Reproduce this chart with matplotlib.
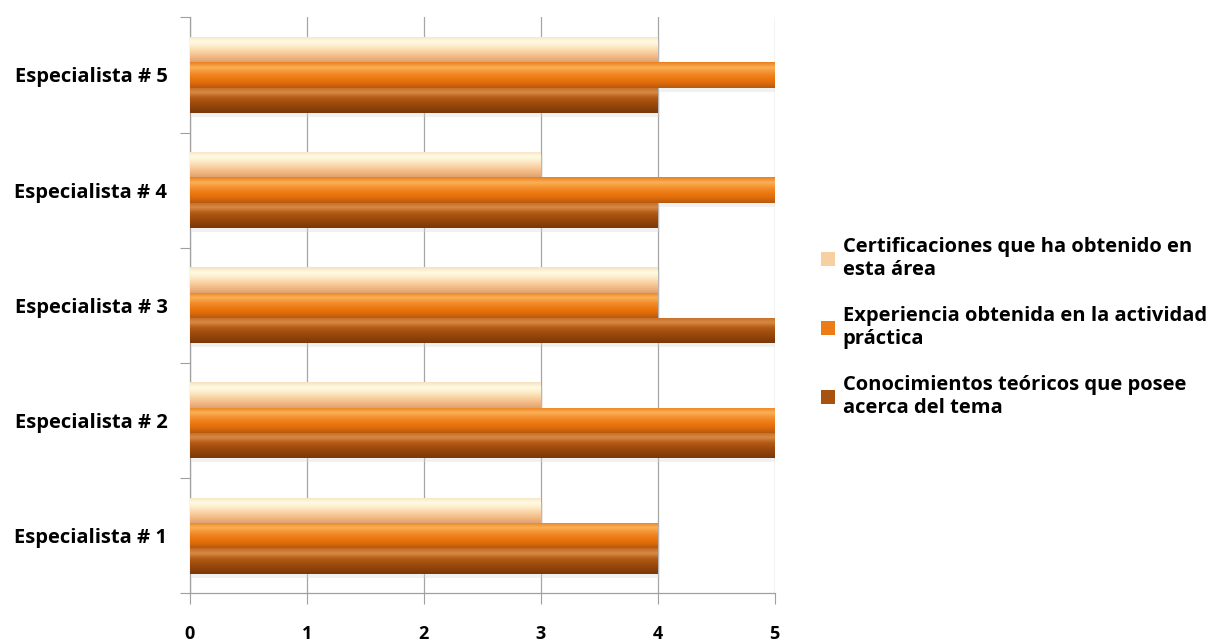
import matplotlib.pyplot as plt
import numpy as np
from matplotlib.colors import LinearSegmentedColormap, to_rgb
from matplotlib.patches import Patch

# Datos
##################################################################
categorias = ["Especialista # 1", "Especialista # 2", "Especialista # 3",
              "Especialista # 4", "Especialista # 5"]
conocimientos = [4, 5, 5, 4, 4]
experiencia = [4, 5, 4, 5, 5]
certificaciones = [3, 3, 4, 3, 4]

series = ["Conocimientos teóricos que posee\nacerca del tema",
          "Experiencia obtenida en la actividad\npráctica",
          "Certificaciones que ha obtenido en\nesta área"]

# degradados (de arriba hacia abajo) para cada serie
degradados = [
    ["#C26A26", "#D88A45", "#B45C18", "#A04C0C", "#8E420A", "#7A3808"],
    ["#E8801E", "#FBB055", "#F39030", "#EE7A12", "#E06C0A", "#B65A10"],
    ["#F4E2C0", "#FFFBE4", "#FDEBC8", "#F9D2A2", "#F2B985", "#E0A272"],
]
colores_leyenda = ["#A8520F", "#EE7C16", "#F8CFA0"]

plt.rcParams['font.family'] = ['Open Sans', 'DejaVu Sans']

fig = plt.figure(figsize=(12.16, 6.42), dpi=100)
ax = fig.add_axes([0.156, 0.076, 0.481, 0.897])

alto = 0.22
y = np.arange(len(categorias))
valores = [conocimientos, experiencia, certificaciones]
desplaz = [-alto, 0, alto]

for vals, off, stops in zip(valores, desplaz, degradados):
    cmap = LinearSegmentedColormap.from_list("g", [to_rgb(c) for c in stops])
    grad = cmap(np.linspace(0, 1, 64))[:, None, :3]
    barras = ax.barh(y + off, vals, height=alto, color="none",
                     edgecolor="none", zorder=3)
    for b in barras:
        x0, y0 = b.get_x(), b.get_y()
        w, h = b.get_width(), b.get_height()
        # sombra suave debajo de la barra
        ax.add_patch(plt.Rectangle((x0 + 0.02, y0 - 0.035), w, h,
                                   color="#D8D8D8", alpha=0.35, lw=0,
                                   zorder=2))
        im = ax.imshow(grad, extent=[x0, x0 + w, y0, y0 + h],
                       aspect="auto", origin="upper", zorder=3,
                       interpolation="bilinear")
        im.set_clip_path(b)

ax.set_xlim(0, 5)
ax.set_ylim(-0.5, 4.5)

# ejes y rejilla
ax.set_xticks(range(6))
ax.tick_params(axis="x", length=8, width=0.8, color="#A0A0A0", pad=15,
               labelsize=13)
for t in ax.get_xticklabels():
    t.set_fontweight("bold")

ax.set_yticks(y)
ax.set_yticklabels(categorias, fontsize=14.5, fontweight="bold")
ax.set_yticks(np.arange(-0.5, 5, 1), minor=True)
ax.tick_params(axis="y", which="major", length=0, pad=16)
ax.tick_params(axis="y", which="minor", length=7, width=0.8, color="#A0A0A0")

ax.grid(axis="x", color="#A6A6A6", linewidth=0.9, zorder=0)
for s in ["top", "right"]:
    ax.spines[s].set_visible(False)
for s in ["left", "bottom"]:
    ax.spines[s].set_color("#A0A0A0")
    ax.spines[s].set_linewidth(0.9)

# leyenda
handles = [Patch(facecolor=colores_leyenda[i], edgecolor="none",
                 label=series[i]) for i in [2, 1, 0]]
fig.legend(handles=handles, loc="center left", bbox_to_anchor=(0.66, 0.49),
           frameon=False, handlelength=0.7, handleheight=0.7,
           handletextpad=0.4, labelspacing=1.3,
           prop={"size": 14.5, "weight": "bold"})

plt.savefig("out.png", dpi=100)
